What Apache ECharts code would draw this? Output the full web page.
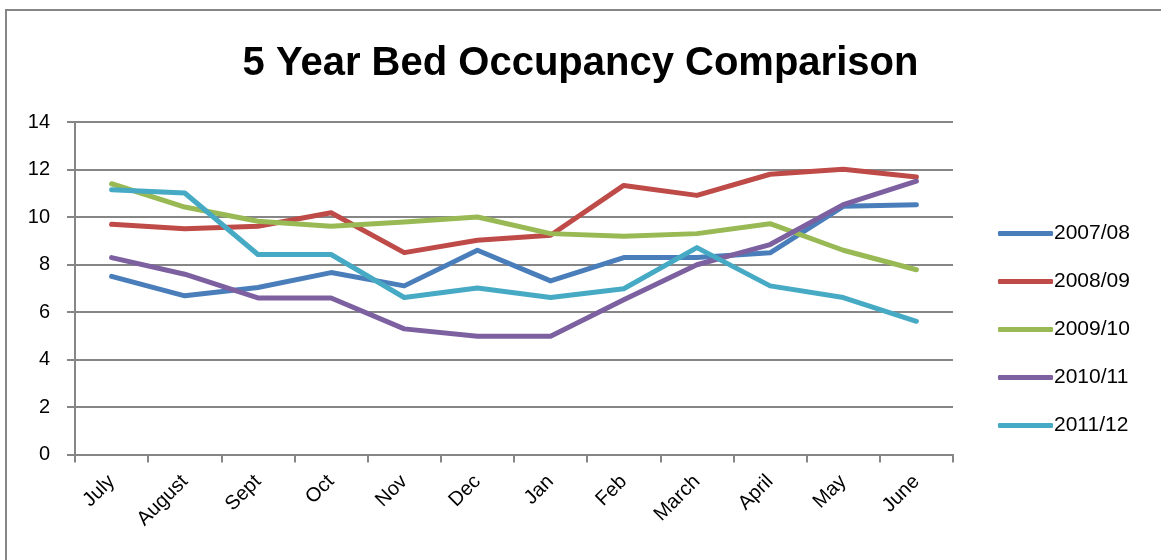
<!DOCTYPE html>
<html>
<head>
<meta charset="utf-8">
<script src="https://cdn.jsdelivr.net/npm/echarts@6/dist/echarts.min.js"></script>
<style>
  html, body { margin: 0; padding: 0; background: #fff; }
  #chart { width: 1161px; height: 560px; }
</style>
</head>
<body>
<div id="chart"></div>
<script>
// months of the financial year
const months = ['July', 'August', 'Sept', 'Oct', 'Nov', 'Dec', 'Jan', 'Feb', 'March', 'April', 'May', 'June']
const yTicks = [0, 2, 4, 6, 8, 10, 12, 14]

const y2007 = [7.5, 6.68, 7.03, 7.66, 7.1, 8.6, 7.31, 8.29, 8.29, 8.49, 10.45, 10.52]
const y2008 = [9.69, 9.51, 9.61, 10.18, 8.5, 9.02, 9.23, 11.33, 10.91, 11.8, 12.01, 11.68]
const y2009 = [11.4, 10.42, 9.82, 9.61, 9.79, 10.0, 9.3, 9.19, 9.3, 9.72, 8.6, 7.78]
const y2010 = [8.29, 7.59, 6.59, 6.59, 5.29, 4.98, 4.98, 6.52, 7.99, 8.84, 10.52, 11.51]
const y2011 = [11.15, 11.01, 8.42, 8.42, 6.61, 7.01, 6.61, 6.98, 8.71, 7.1, 6.61, 5.61]

const seriesNames = ['2007/08', '2008/09', '2009/10', '2010/11', '2011/12']
const colors = ['#4A7EBB', '#BE4B48', '#98B954', '#7D60A0', '#46AAC5']

const chart = echarts.init(document.getElementById('chart'))
const axisGray = '#868686'

function makeLine(name, data, color) {
  return {
    name: name,
    type: 'line',
    data: data,
    showSymbol: false,
    symbol: 'none',
    animation: false,
    lineStyle: { color: color, width: 5, cap: 'round', join: 'round' },
    itemStyle: { color: color }
  }
}

chart.setOption({
  color: colors,
  title: {
    text: '5 Year Bed Occupancy Comparison',
    left: 'center',
    top: 39,
    textStyle: {
      fontFamily: 'Liberation Sans',
      fontWeight: 'bold',
      fontSize: 40,
      color: '#000'
    }
  },
  graphic: [{
    type: 'rect',
    shape: { x: 6, y: 10, width: 1200, height: 600 },
    style: { fill: 'none', stroke: axisGray, lineWidth: 2 },
    silent: true
  }],
  legend: {
    orient: 'vertical',
    left: 993,
    top: 218,
    itemWidth: 55,
    itemHeight: 5,
    itemGap: 27,
    icon: 'roundRect',
    textStyle: { fontFamily: 'Liberation Sans', fontSize: 21, color: '#000', padding: [0, 0, 0, -4] },
    data: seriesNames
  },
  grid: {
    left: 75,
    right: 208,
    top: 122,
    height: 332.5,
    containLabel: false
  },
  xAxis: {
    type: 'category',
    data: months,
    boundaryGap: true,
    axisLine: { lineStyle: { color: axisGray, width: 2 } },
    axisTick: { show: true, length: 8, alignWithLabel: false, lineStyle: { color: axisGray, width: 2 } },
    axisLabel: {
      rotate: 45,
      margin: 24,
      fontFamily: 'Liberation Sans',
      fontSize: 20,
      color: '#000',
      interval: 0
    }
  },
  yAxis: {
    type: 'value',
    min: yTicks[0],
    max: yTicks[yTicks.length - 1],
    interval: 2,
    axisLine: { show: true, lineStyle: { color: axisGray, width: 2 } },
    axisTick: { show: true, length: 8, lineStyle: { color: axisGray, width: 2 } },
    splitLine: { lineStyle: { color: axisGray, width: 2 } },
    axisLabel: {
      margin: 25,
      fontFamily: 'Liberation Sans',
      fontSize: 20,
      color: '#000'
    }
  },
  series: [
    makeLine(seriesNames[0], y2007, colors[0]),
    makeLine(seriesNames[1], y2008, colors[1]),
    makeLine(seriesNames[2], y2009, colors[2]),
    makeLine(seriesNames[3], y2010, colors[3]),
    makeLine(seriesNames[4], y2011, colors[4])
  ]
})
</script>
</body>
</html>
